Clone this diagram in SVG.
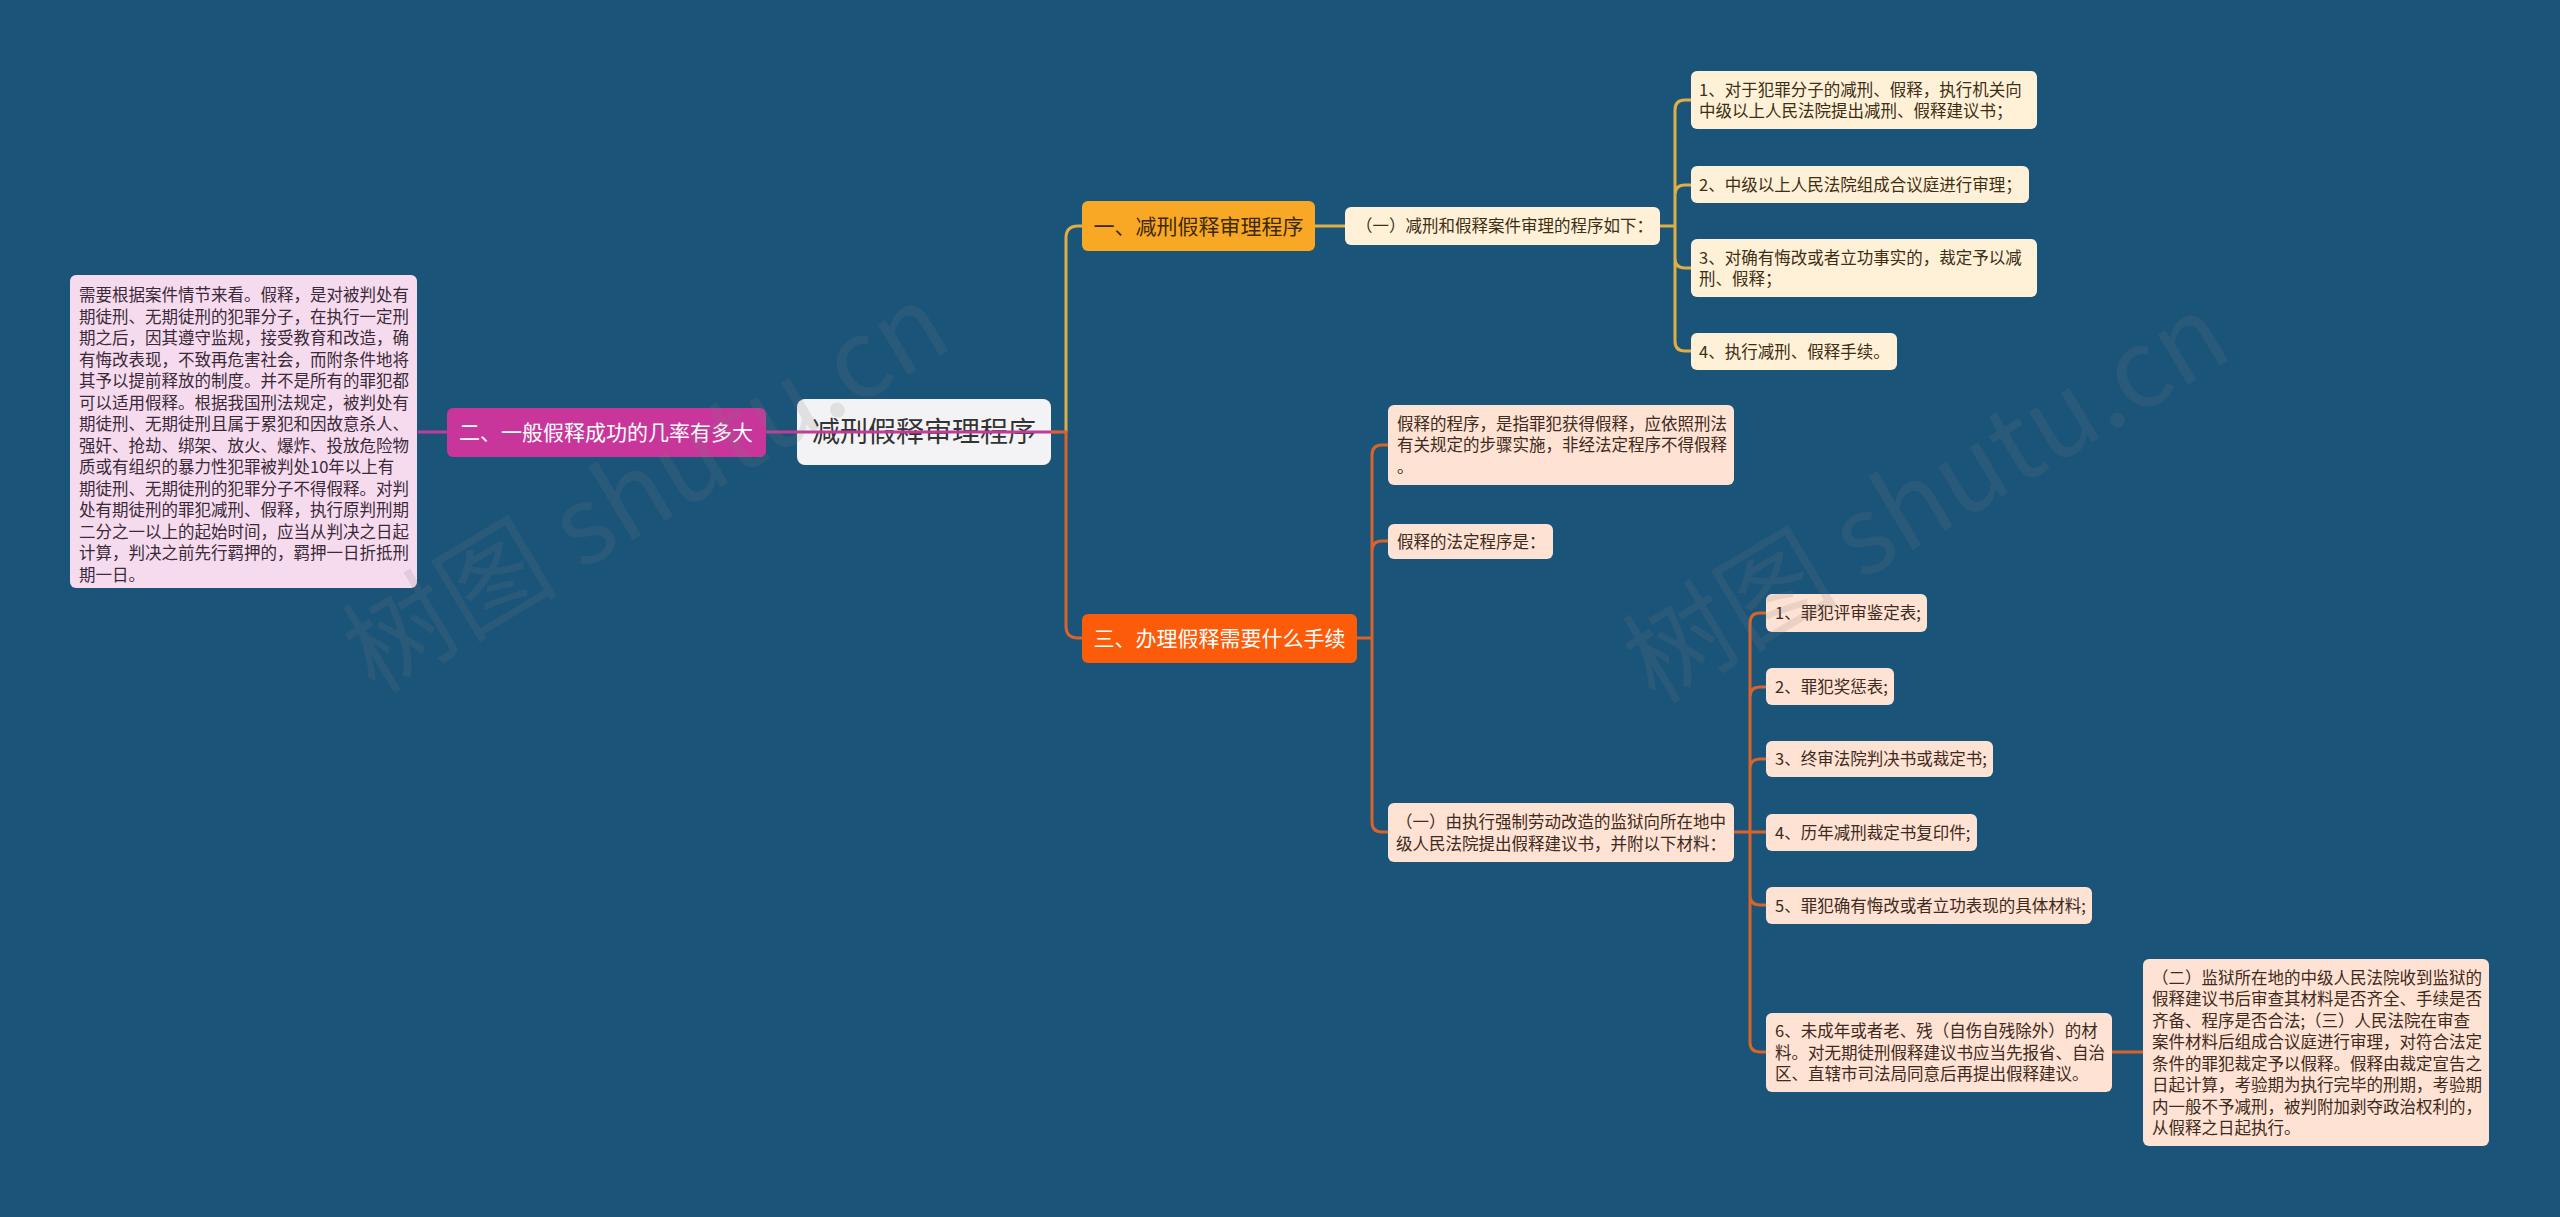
<svg xmlns="http://www.w3.org/2000/svg" width="2560" height="1217" viewBox="0 0 2560 1217">
<style>
text{font-family:"Noto Sans CJK SC","Noto Sans",sans-serif;}
.leaf{font-size:16.5px;}
.cream{fill:#fef1d8;}
.peach{fill:#fee2d3;}
.tc{fill:#3d2e14;}
.tp{fill:#3d2a20;}
.cg{fill:none;stroke:#dfae45;stroke-width:3;}
.co{fill:none;stroke:#d8632c;stroke-width:3;}
.cm{fill:none;stroke:#be3d98;stroke-width:3;}
.wm{font-size:108px;fill:#7a7a7a;fill-opacity:0.16;}
</style>
<rect width="2560" height="1217" fill="#1b5479"/>

<g id="root">
<rect x="797" y="399" width="254" height="66" rx="8" fill="#f3f3f5"/>
<text x="924" y="442" font-size="28" fill="#333" text-anchor="middle">减刑假释审理程序</text>
</g>

<g id="connectors">
<path class="cm" d="M418,432 H447 M766,432 H1058"/>
<path class="cg" d="M1066,432 V238 Q1066,226 1078,226 H1082"/>
<path class="co" d="M1051,432 H1066 V626 Q1066,638 1078,638 H1082"/>
<path class="cg" d="M1315,226 H1345"/>
<path class="cg" d="M1660,226 H1675 V110 Q1675,100 1685,100 H1691 M1675,226 V195 Q1675,185 1685,185 H1691 M1675,226 V258 Q1675,268 1685,268 H1691 M1675,226 V341 Q1675,351 1685,351 H1691"/>
<path class="co" d="M1357,638 H1372 V455 Q1372,445 1382,445 H1388 M1372,638 V551 Q1372,541 1382,541 H1388 M1372,638 V822 Q1372,832 1382,832 H1388"/>
<path class="co" d="M1734,832 H1766 M1750,832 V623 Q1750,613 1760,613 H1766 M1750,832 V697 Q1750,687 1760,687 H1766 M1750,832 V769 Q1750,759 1760,759 H1766 M1750,832 V895 Q1750,905 1760,905 H1766 M1750,832 V1042 Q1750,1052 1760,1052 H1766"/>
<path class="co" d="M2112,1052 H2143"/>
</g>

<g id="n-left">
<rect x="447" y="408" width="319" height="49" rx="6" fill="#c8369c"/>
<text x="606" y="440" font-size="21" fill="#fff" text-anchor="middle">二、一般假释成功的几率有多大</text>
</g>

<g id="n-left-text">
<rect x="70" y="275" width="347" height="313" rx="6" fill="#f6dbef"/>
<text class="leaf" fill="#3a2a38" x="79">
<tspan x="79" y="301">需要根据案件情节来看。假释，是对被判处有</tspan>
<tspan x="79" y="322.5">期徒刑、无期徒刑的犯罪分子，在执行一定刑</tspan>
<tspan x="79" y="344">期之后，因其遵守监规，接受教育和改造，确</tspan>
<tspan x="79" y="365.5">有悔改表现，不致再危害社会，而附条件地将</tspan>
<tspan x="79" y="387">其予以提前释放的制度。并不是所有的罪犯都</tspan>
<tspan x="79" y="408.5">可以适用假释。根据我国刑法规定，被判处有</tspan>
<tspan x="79" y="430">期徒刑、无期徒刑且属于累犯和因故意杀人、</tspan>
<tspan x="79" y="451.5">强奸、抢劫、绑架、放火、爆炸、投放危险物</tspan>
<tspan x="79" y="473">质或有组织的暴力性犯罪被判处10年以上有</tspan>
<tspan x="79" y="494.5">期徒刑、无期徒刑的犯罪分子不得假释。对判</tspan>
<tspan x="79" y="516">处有期徒刑的罪犯减刑、假释，执行原判刑期</tspan>
<tspan x="79" y="537.5">二分之一以上的起始时间，应当从判决之日起</tspan>
<tspan x="79" y="559">计算，判决之前先行羁押的，羁押一日折抵刑</tspan>
<tspan x="79" y="580.5">期一日。</tspan>
</text>
</g>

<g id="n-b1">
<rect x="1082" y="201" width="233" height="50" rx="6" fill="#f9a825"/>
<text x="1198.5" y="233.5" font-size="21" fill="#3c2a0c" text-anchor="middle">一、减刑假释审理程序</text>
</g>

<g id="n-b1-sub">
<rect class="cream" x="1345" y="207" width="315" height="38" rx="6"/>
<text class="leaf tc" x="1356" y="232">（一）减刑和假释案件审理的程序如下：</text>
</g>

<g id="n-b1-1">
<rect class="cream" x="1691" y="71" width="346" height="58" rx="6"/>
<text class="leaf tc"><tspan x="1699" y="95.5">1、对于犯罪分子的减刑、假释，执行机关向</tspan><tspan x="1699" y="117">中级以上人民法院提出减刑、假释建议书；</tspan></text>
</g>
<g id="n-b1-2">
<rect class="cream" x="1691" y="166" width="338" height="37" rx="6"/>
<text class="leaf tc" x="1699" y="190.5">2、中级以上人民法院组成合议庭进行审理；</text>
</g>
<g id="n-b1-3">
<rect class="cream" x="1691" y="239" width="346" height="58" rx="6"/>
<text class="leaf tc"><tspan x="1699" y="263.5">3、对确有悔改或者立功事实的，裁定予以减</tspan><tspan x="1699" y="285">刑、假释；</tspan></text>
</g>
<g id="n-b1-4">
<rect class="cream" x="1691" y="333" width="206" height="37" rx="6"/>
<text class="leaf tc" x="1699" y="357.5">4、执行减刑、假释手续。</text>
</g>

<g id="n-b3">
<rect x="1082" y="614" width="275" height="49" rx="6" fill="#fc5c0a"/>
<text x="1219.5" y="646" font-size="21" fill="#fff" text-anchor="middle">三、办理假释需要什么手续</text>
</g>

<g id="n-b3-a">
<rect class="peach" x="1388" y="405" width="346" height="80" rx="6"/>
<text class="leaf tp"><tspan x="1397" y="429.5">假释的程序，是指罪犯获得假释，应依照刑法</tspan><tspan x="1397" y="451">有关规定的步骤实施，非经法定程序不得假释</tspan><tspan x="1397" y="472.5">。</tspan></text>
</g>
<g id="n-b3-b">
<rect class="peach" x="1388" y="524" width="165" height="35" rx="6"/>
<text class="leaf tp" x="1397" y="547.5">假释的法定程序是：</text>
</g>
<g id="n-b3-c">
<rect class="peach" x="1388" y="803" width="346" height="59" rx="6"/>
<text class="leaf tp"><tspan x="1396" y="828">（一）由执行强制劳动改造的监狱向所在地中</tspan><tspan x="1396" y="849.5">级人民法院提出假释建议书，并附以下材料：</tspan></text>
</g>

<g id="n-c1">
<rect class="peach" x="1766" y="594" width="161" height="38" rx="6"/>
<text class="leaf tp" x="1775" y="619">1、罪犯评审鉴定表;</text>
</g>
<g id="n-c2">
<rect class="peach" x="1766" y="668" width="128" height="37" rx="6"/>
<text class="leaf tp" x="1775" y="692.5">2、罪犯奖惩表;</text>
</g>
<g id="n-c3">
<rect class="peach" x="1766" y="741" width="227" height="36" rx="6"/>
<text class="leaf tp" x="1775" y="765">3、终审法院判决书或裁定书;</text>
</g>
<g id="n-c4">
<rect class="peach" x="1766" y="814" width="211" height="37" rx="6"/>
<text class="leaf tp" x="1775" y="838.5">4、历年减刑裁定书复印件;</text>
</g>
<g id="n-c5">
<rect class="peach" x="1766" y="887" width="326" height="37" rx="6"/>
<text class="leaf tp" x="1775" y="911.5">5、罪犯确有悔改或者立功表现的具体材料;</text>
</g>
<g id="n-c6">
<rect class="peach" x="1766" y="1013" width="346" height="79" rx="6"/>
<text class="leaf tp"><tspan x="1775" y="1037">6、未成年或者老、残（自伤自残除外）的材</tspan><tspan x="1775" y="1058.5">料。对无期徒刑假释建议书应当先报省、自治</tspan><tspan x="1775" y="1080">区、直辖市司法局同意后再提出假释建议。</tspan></text>
</g>

<g id="n-d">
<rect class="peach" x="2143" y="959" width="346" height="187" rx="6"/>
<text class="leaf tp">
<tspan x="2152" y="983.5">（二）监狱所在地的中级人民法院收到监狱的</tspan>
<tspan x="2152" y="1005">假释建议书后审查其材料是否齐全、手续是否</tspan>
<tspan x="2152" y="1026.5">齐备、程序是否合法;（三）人民法院在审查</tspan>
<tspan x="2152" y="1048">案件材料后组成合议庭进行审理，对符合法定</tspan>
<tspan x="2152" y="1069.5">条件的罪犯裁定予以假释。假释由裁定宣告之</tspan>
<tspan x="2152" y="1091">日起计算，考验期为执行完毕的刑期，考验期</tspan>
<tspan x="2152" y="1112.5">内一般不予减刑，被判附加剥夺政治权利的，</tspan>
<tspan x="2152" y="1134">从假释之日起执行。</tspan>
</text>
</g>

<g id="watermarks">
<text class="wm" transform="translate(375,695) rotate(-31)">树图 shutu.cn</text>
<text class="wm" transform="translate(1655,705) rotate(-31)">树图 shutu.cn</text>
</g>
</svg>
